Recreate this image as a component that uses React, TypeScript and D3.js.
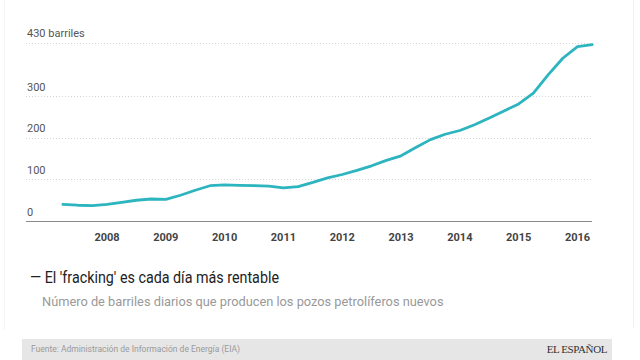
import React, { useRef, useEffect } from "react";
import * as d3 from "d3";

// quarterly readings, barrels per day from new wells
const quarters = [
  2007.25, 2007.5, 2007.75, 2008.0, 2008.25, 2008.5, 2008.75, 2009.0, 2009.25, 2009.5,
  2009.75, 2010.0, 2010.25, 2010.5, 2010.75, 2011.0, 2011.25, 2011.5, 2011.75, 2012.0,
  2012.25, 2012.5, 2012.75, 2013.0, 2013.25, 2013.5, 2013.75, 2014.0, 2014.25, 2014.5,
  2014.75, 2015.0, 2015.25, 2015.5, 2015.75, 2016.0, 2016.25,
];
const barrels = [
  40, 38, 37, 40, 45, 50, 53, 52, 62, 74,
  85, 87, 86, 85, 84, 80, 83, 93, 104, 112,
  122, 133, 146, 157, 177, 196, 209, 218, 232, 248,
  265, 282, 308, 352, 392, 420, 425,
];
const yearTicks = [2008, 2009, 2010, 2011, 2012, 2013, 2014, 2015, 2016];
const valueTicks = [0, 100, 200, 300, 430];

const title = "— El 'fracking' es cada día más rentable";
const subtitle = "Número de barriles diarios que producen los pozos petrolíferos nuevos";
const source = "Fuente: Administración de Información de Energía (EIA)";

const App = () => {
  const svgRef = useRef<SVGSVGElement>(null);

  useEffect(() => {
    const width = 640;
    const height = 360;
    const plotLeft = 26;
    const plotRight = 592;

    const svg = d3.select(svgRef.current).attr("width", width).attr("height", height);
    svg.selectAll("*").remove();

    svg.append("rect").attr("width", width).attr("height", height).attr("fill", "#ffffff");

    // faint card edges
    svg.append("line").attr("x1", 633.5).attr("x2", 633.5).attr("y1", 0).attr("y2", 328)
      .attr("stroke", "#f0f0f0").attr("stroke-width", 1);
    svg.append("line").attr("x1", 4.5).attr("x2", 4.5).attr("y1", 0).attr("y2", 330)
      .attr("stroke", "#f4f4f4").attr("stroke-width", 1);

    const x = d3.scaleLinear().domain([2008, 2016]).range([107, 577.5]);
    const y = d3.scaleLinear().domain([0, 430]).range([221, 42.5]);

    const data = quarters.map((q, i) => ({ q, v: barrels[i] }));

    // grid
    const grid = svg.append("g");
    grid.selectAll("line")
      .data(valueTicks.filter((d) => d > 0))
      .join("line")
      .attr("x1", plotLeft).attr("x2", plotRight)
      .attr("y1", (d) => Math.round(y(d)) + 0.5).attr("y2", (d) => Math.round(y(d)) + 0.5)
      .attr("stroke", "#d4d4d4").attr("stroke-width", 1)
      .attr("stroke-dasharray", "1,2");

    grid.selectAll("text")
      .data(valueTicks)
      .join("text")
      .attr("x", 27)
      .attr("y", (d) => y(d) - 5.5)
      .attr("fill", "#555")
      .style("font-family", "Roboto, sans-serif")
      .style("font-size", "11px")
      .text((d) => (d === 430 ? "430 barriles" : String(d)));

    // baseline
    svg.append("line")
      .attr("x1", plotLeft).attr("x2", plotRight)
      .attr("y1", y(0) + 0.5).attr("y2", y(0) + 0.5)
      .attr("stroke", "#8a8a8a").attr("stroke-width", 1.2);

    // years
    svg.append("g")
      .selectAll("text")
      .data(yearTicks)
      .join("text")
      .attr("x", (d) => x(d))
      .attr("y", 241)
      .attr("text-anchor", "middle")
      .attr("fill", "#444")
      .style("font-family", "Roboto, sans-serif")
      .style("font-size", "11px")
      .style("font-weight", "bold")
      .text((d) => d);

    const line = d3.line<{ q: number; v: number }>()
      .x((d) => x(d.q))
      .y((d) => y(d.v));

    svg.append("path")
      .datum(data)
      .attr("fill", "none")
      .attr("stroke", "#2cb4bf")
      .attr("stroke-width", 2.8)
      .attr("stroke-linejoin", "round")
      .attr("stroke-linecap", "round")
      .attr("d", line);

    // titles (reference uses a condensed face, squeeze to match)
    svg.append("text")
      .attr("x", 30).attr("y", 283)
      .attr("fill", "#222")
      .attr("textLength", 249)
      .attr("lengthAdjust", "spacingAndGlyphs")
      .style("font-family", "Roboto, sans-serif")
      .style("font-size", "16px")
      .text(title);

    svg.append("text")
      .attr("x", 42).attr("y", 306)
      .attr("fill", "#999")
      .style("font-family", "Roboto, sans-serif")
      .style("font-size", "12.8px")
      .text(subtitle);

    // footer
    svg.append("rect")
      .attr("x", 22).attr("y", 339).attr("width", 590).attr("height", 21)
      .attr("fill", "#e6e6e6");

    svg.append("text")
      .attr("x", 31).attr("y", 352)
      .attr("fill", "#9a9a9a")
      .style("font-family", "Roboto, sans-serif")
      .style("font-size", "8.5px")
      .text(source);

    svg.append("text")
      .attr("x", 607).attr("y", 352.5)
      .attr("text-anchor", "end")
      .attr("fill", "#333")
      .style("font-family", "'Liberation Serif', serif")
      .style("font-size", "11px")
      .style("letter-spacing", "-0.4px")
      .text("EL ESPAÑOL");
  }, []);

  return (
    <div style={{ position: "fixed", left: 0, top: 0 }}>
      <svg ref={svgRef}></svg>
    </div>
  );
};

export default App;
